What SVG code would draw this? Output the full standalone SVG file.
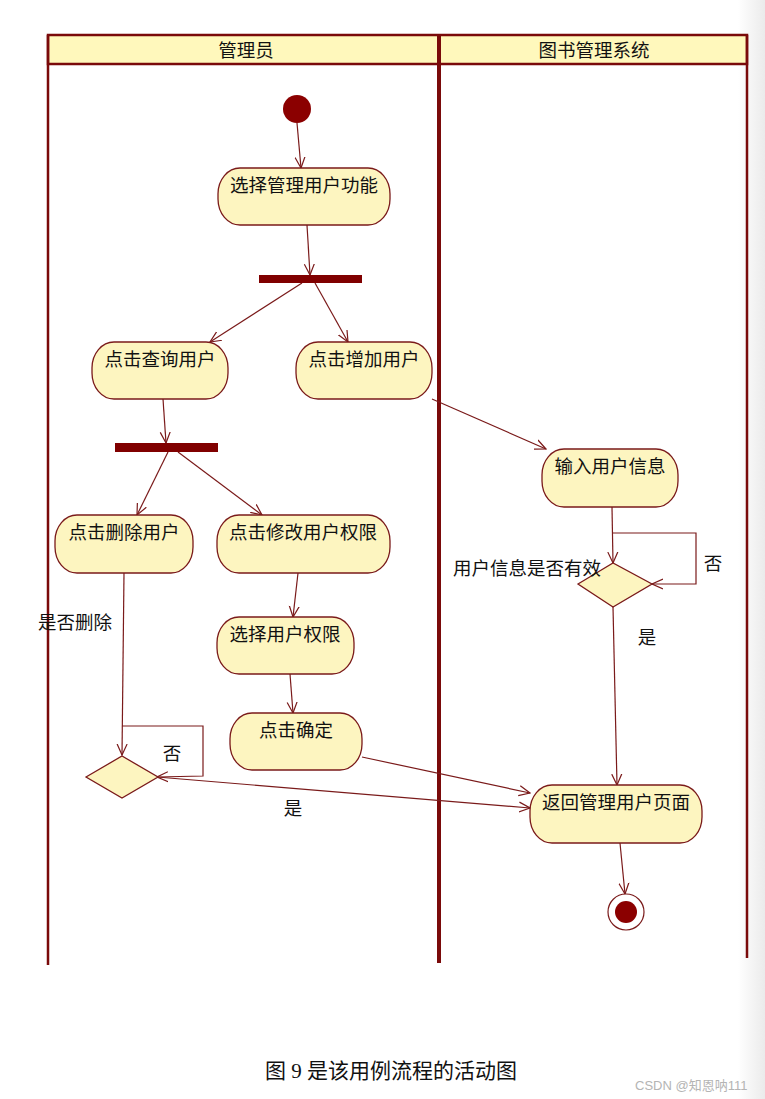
<svg xmlns="http://www.w3.org/2000/svg" width="765" height="1099" viewBox="0 0 765 1099">
<style>
.lane{stroke:#7a0a0a;fill:none}
.act{fill:#fdf5c0;stroke:#7a1a1a;stroke-width:1.3}
.t{font-family:"Noto Sans CJK SC","Liberation Sans",sans-serif;font-size:18.5px;fill:#111}
.tc{text-anchor:middle}
.c{stroke:#7a1a1a;stroke-width:1.2;fill:none;marker-end:url(#ah)}
.bar{fill:#800000}
</style>
<defs>
<marker id="ah" viewBox="0 0 12 12" refX="11" refY="6" markerWidth="12" markerHeight="12" markerUnits="userSpaceOnUse" orient="auto">
<path d="M0,1 L11,6 L0,11" fill="none" stroke="#7a1a1a" stroke-width="1.2"/>
</marker>
<linearGradient id="edge" x1="0" y1="0" x2="1" y2="0">
<stop offset="0" stop-color="#ffffff"/>
<stop offset="1" stop-color="#ebebeb"/>
</linearGradient>
</defs>
<rect x="0" y="0" width="765" height="1099" fill="#ffffff"/>
<rect x="738" y="0" width="27" height="1099" fill="url(#edge)"/>

<g id="swimlanes">
<rect x="48" y="35" width="699" height="29" fill="#fff8bc" stroke="#7a0a0a" stroke-width="2.5"/>
<line class="lane" x1="48" y1="35" x2="48" y2="965" stroke-width="2.5"/>
<line class="lane" x1="439" y1="35" x2="439" y2="963" stroke-width="4"/>
<line class="lane" x1="747" y1="35" x2="747" y2="958" stroke-width="2.5"/>
<text class="t tc" x="246" y="57">管理员</text>
<text class="t tc" x="594" y="57">图书管理系统</text>
</g>

<g id="connectors">
<path class="c" d="M297,123 L301,168"/>
<path class="c" d="M307,225 L310,275"/>
<path class="c" d="M302,283 L210,342"/>
<path class="c" d="M315,283 L348,342"/>
<path class="c" d="M163,399 L166,443"/>
<path class="c" d="M168,452 L137,515"/>
<path class="c" d="M178,452 L262,515"/>
<path class="c" d="M432,399 L546,449"/>
<path class="c" d="M298,573 L293,617"/>
<path class="c" d="M290,674 L293,713"/>
<path class="c" d="M124,573 L122,755"/>
<path class="c" d="M122,726 L203,726 L203,776 L157,777"/>
<path class="c" d="M157,777 L530,808"/>
<path class="c" d="M362,757 L530,793"/>
<path class="c" d="M612,507 L613,563"/>
<path class="c" d="M612,533 L696,533 L696,584 L652,584"/>
<path class="c" d="M613,607 L617,785"/>
<path class="c" d="M620,843 L625,894"/>
</g>

<g id="start"><circle cx="297" cy="109" r="14" fill="#8b0000"/></g>

<g id="n_select_func">
<rect class="act" x="218" y="168" width="172" height="57" rx="22" ry="26"/>
<text class="t tc" x="304" y="192">选择管理用户功能</text>
</g>
<g id="fork1"><rect class="bar" x="259" y="275" width="103" height="8"/></g>
<g id="n_query">
<rect class="act" x="92" y="342" width="136" height="57" rx="22" ry="26"/>
<text class="t tc" x="160" y="366">点击查询用户</text>
</g>
<g id="n_add">
<rect class="act" x="296" y="342" width="136" height="57" rx="22" ry="26"/>
<text class="t tc" x="364" y="366">点击增加用户</text>
</g>
<g id="fork2"><rect class="bar" x="115" y="443" width="103" height="9"/></g>
<g id="n_delete">
<rect class="act" x="55" y="515" width="138" height="58" rx="22" ry="26"/>
<text class="t tc" x="124" y="539">点击删除用户</text>
</g>
<g id="n_modify">
<rect class="act" x="217" y="515" width="173" height="58" rx="22" ry="26"/>
<text class="t tc" x="303" y="539">点击修改用户权限</text>
</g>
<g id="n_choose_perm">
<rect class="act" x="217" y="617" width="137" height="57" rx="22" ry="26"/>
<text class="t tc" x="285" y="641">选择用户权限</text>
</g>
<g id="n_confirm">
<rect class="act" x="230" y="713" width="132" height="57" rx="22" ry="26"/>
<text class="t tc" x="296" y="737">点击确定</text>
</g>
<g id="d_delete">
<polygon class="act" points="86,777 122,756 158,777 122,798"/>
</g>
<g id="n_input">
<rect class="act" x="542" y="449" width="136" height="58" rx="22" ry="26"/>
<text class="t tc" x="610" y="473">输入用户信息</text>
</g>
<g id="d_valid">
<polygon class="act" points="578,584 613,563 652,584 613,607"/>
</g>
<g id="n_return">
<rect class="act" x="530" y="785" width="172" height="58" rx="22" ry="26"/>
<text class="t tc" x="616" y="809">返回管理用户页面</text>
</g>
<g id="end">
<circle cx="626" cy="912" r="18" fill="#ffffff" stroke="#7a1a1a" stroke-width="1.2"/>
<circle cx="626" cy="912" r="11" fill="#8b0000"/>
</g>

<g id="labels">
<text class="t" x="38" y="629">是否删除</text>
<text class="t tc" x="172" y="760">否</text>
<text class="t tc" x="293" y="815">是</text>
<text class="t" x="453" y="575">用户信息是否有效</text>
<text class="t tc" x="713" y="570">否</text>
<text class="t tc" x="647" y="644">是</text>
</g>

<text x="265" y="1078" font-family="Liberation Serif,Noto Sans CJK SC,serif" font-size="21" fill="#111">图 9 是该用例流程的活动图</text>
<text x="635" y="1090" font-family="Liberation Sans,Noto Sans CJK SC,sans-serif" font-size="13" fill="#b4b4b4">CSDN @知恩呐111</text>
</svg>
